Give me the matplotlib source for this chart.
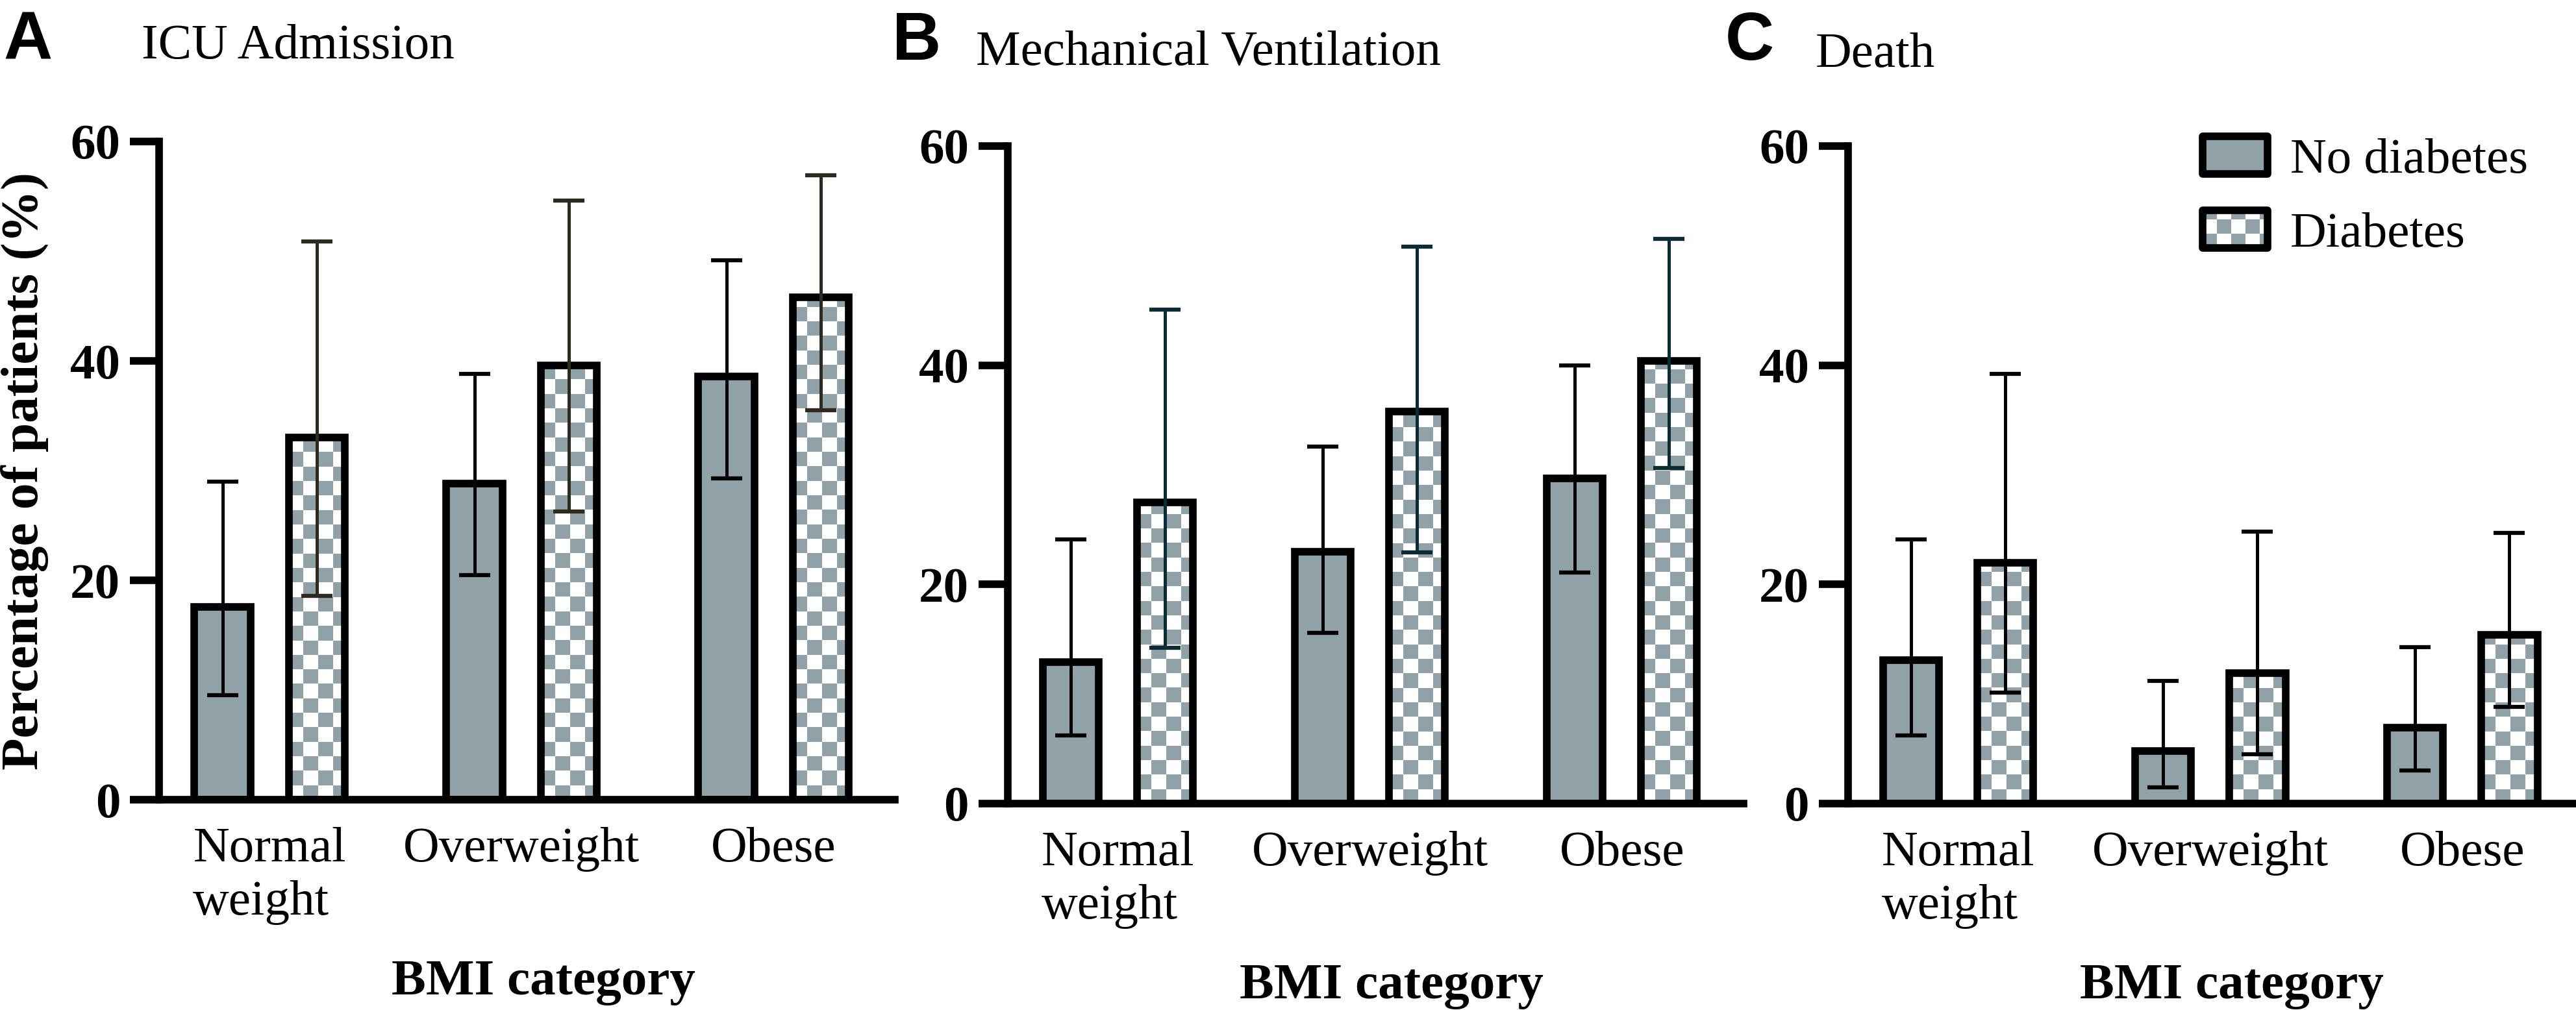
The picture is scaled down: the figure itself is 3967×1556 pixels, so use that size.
import numpy as np
import matplotlib
matplotlib.use("Agg")
import matplotlib.pyplot as plt
from matplotlib.patches import Rectangle, Patch
from matplotlib.colors import ListedColormap
from matplotlib.legend_handler import HandlerBase

plt.rcParams['font.family'] = ['Liberation Serif', 'DejaVu Serif']

# ---------------------------------------------
# Data (percent of patients, with 95% CI)
# ---------------------------------------------
categories = ["Normal\nweight", "Overweight", "Obese"]
panel_letters = ["A", "B", "C"]
panel_titles = ["ICU Admission", "Mechanical Ventilation", "Death"]

icu_no = [17.6, 28.8, 38.6]
icu_no_lo = [9.5, 20.5, 29.3]
icu_no_hi = [29.0, 38.8, 49.2]
icu_dm = [33.0, 39.6, 45.8]
icu_dm_lo = [18.6, 26.3, 35.5]
icu_dm_hi = [50.9, 54.6, 56.9]

mv_no = [12.9, 23.0, 29.7]
mv_no_lo = [6.2, 15.6, 21.1]
mv_no_hi = [24.1, 32.6, 40.0]
mv_dm = [27.5, 35.8, 40.4]
mv_dm_lo = [14.2, 22.9, 30.6]
mv_dm_hi = [45.1, 50.8, 51.5]

death_no = [13.1, 4.8, 6.9]
death_no_lo = [6.2, 1.5, 3.0]
death_no_hi = [24.1, 11.2, 14.3]
death_dm = [22.0, 11.9, 15.4]
death_dm_lo = [10.1, 4.5, 8.8]
death_dm_hi = [39.2, 24.8, 24.7]

GREY = '#90a1a8'
DM_ERR_COLORS = ['#2e2a20', '#0b2b35', 'black']

panels = [
    (icu_no, icu_no_lo, icu_no_hi, icu_dm, icu_dm_lo, icu_dm_hi),
    (mv_no, mv_no_lo, mv_no_hi, mv_dm, mv_dm_lo, mv_dm_hi),
    (death_no, death_no_lo, death_no_hi, death_dm, death_dm_lo, death_dm_hi),
]

W = 0.222      # bar width
OFF = 0.187    # offset from group centre
SQ_X = 0.0575  # checker square, data units
SQ_Y = 1.32
EDGE_LW = 2.8


def checker_bar(ax, x, h):
    """Bar with a grey/white checkerboard fill."""
    x0 = x - W / 2
    face = ax.bar(x, h, W, color='white', edgecolor='none', zorder=1)[0]
    nx = int(np.ceil(W / SQ_X))
    ny = max(int(np.ceil(h / SQ_Y)), 1)
    board = np.indices((ny, nx)).sum(axis=0) % 2
    im = ax.imshow(board, cmap=ListedColormap(['white', GREY]), origin='lower',
                   extent=(x0, x0 + nx * SQ_X, 0, ny * SQ_Y),
                   interpolation='nearest', aspect='auto', zorder=1.5)
    im.set_clip_path(face)
    ax.bar(x, h, W, color='none', edgecolor='black', linewidth=EDGE_LW, zorder=2)


class BoxHandler(HandlerBase):
    def __init__(self, checker):
        super().__init__()
        self.checker = checker

    def create_artists(self, legend, orig_handle, xdescent, ydescent,
                       width, height, fontsize, trans):
        x0, y0 = -xdescent, -ydescent
        arts = []
        if self.checker:
            arts.append(Rectangle((x0, y0), width, height, fc='white', ec='none', transform=trans))
            s = 5.3
            nx = int(np.ceil(width / s))
            ny = int(np.ceil(height / s))
            for i in range(nx):
                for j in range(ny):
                    if (i + j) % 2 == 0:
                        w = min(s, width - i * s)
                        hh = min(s, height - j * s)
                        arts.append(Rectangle((x0 + i * s, y0 + j * s), w, hh,
                                              fc=GREY, ec='none', transform=trans))
            fc = 'none'
        else:
            fc = GREY
        arts.append(Rectangle((x0, y0), width, height, fc=fc, ec='black',
                              lw=EDGE_LW, joinstyle='round', transform=trans))
        return arts


fig = plt.figure(figsize=(3967 / 300, 1556 / 300), dpi=300)

lefts = [0.0618, 0.3912, 0.7174]
bottoms = [0.2082, 0.2044, 0.2044]
heights = [0.6517, 0.651, 0.651]
letter_pos = [(0.0013, 0.942), (0.3464, 0.941), (0.6698, 0.941)]
title_pos = [(0.055, 0.942), (0.3789, 0.936), (0.7048, 0.934)]

xs = np.arange(len(categories))
for k, (no, no_lo, no_hi, dm, dm_lo, dm_hi) in enumerate(panels):
    ax = fig.add_axes([lefts[k], bottoms[k], 0.2856, heights[k]])
    no = np.array(no)
    dm = np.array(dm)

    ax.bar(xs - OFF, no, W, color=GREY, edgecolor='black', linewidth=EDGE_LW, zorder=2)
    for x, h in zip(xs + OFF, dm):
        checker_bar(ax, x, h)

    ax.errorbar(xs - OFF, no, yerr=[no - np.array(no_lo), np.array(no_hi) - no],
                fmt='none', ecolor='black', elinewidth=1.2, capsize=5.8, capthick=1.5, zorder=3)
    ax.errorbar(xs + OFF, dm, yerr=[dm - np.array(dm_lo), np.array(dm_hi) - dm],
                fmt='none', ecolor=DM_ERR_COLORS[k], elinewidth=1.2, capsize=5.8, capthick=1.5, zorder=3)

    ax.set_xlim(-0.438, 2.482)
    ax.set_ylim(0, 60)
    ax.set_yticks([0, 20, 40, 60])
    ax.set_xticks(xs)
    ax.set_xticklabels(categories, fontsize=18.5, linespacing=1.25)
    for lbl in ax.get_xticklabels():
        lbl.set_multialignment('left')
    for lbl in ax.get_yticklabels():
        lbl.set_fontweight('bold')
        lbl.set_fontsize(18.5)

    ax.spines['top'].set_visible(False)
    ax.spines['right'].set_visible(False)
    ax.spines['left'].set_linewidth(EDGE_LW)
    ax.spines['bottom'].set_linewidth(EDGE_LW)
    ax.tick_params(axis='y', length=10.8, width=EDGE_LW, pad=3.6)
    ax.tick_params(axis='x', length=0, pad=10)

    ax.set_xlabel("BMI category", fontsize=19, fontweight='bold')
    ax.xaxis.set_label_coords(0.522, -0.243)
    if k == 0:
        ax.set_ylabel("Percentage of patients (%)", fontsize=19.5, fontweight='bold', labelpad=8)

    fig.text(*letter_pos[k], panel_letters[k], fontsize=25, fontweight='bold',
             family=['Liberation Sans', 'DejaVu Sans'], va='baseline', ha='left')
    fig.text(*title_pos[k], panel_titles[k], fontsize=18.5, va='baseline', ha='left')

    if k == 2:
        h1 = Patch(facecolor=GREY)
        h2 = Patch(facecolor='white')
        ax.legend([h1, h2], ["No diabetes", "Diabetes"],
                  handler_map={h1: BoxHandler(False), h2: BoxHandler(True)},
                  loc='upper left', bbox_to_anchor=(0.855, 0.865),
                  bbox_transform=fig.transFigure, frameon=False, fontsize=18.5,
                  handlelength=1.3, handleheight=0.78, handletextpad=0.45,
                  labelspacing=0.55, borderpad=0, borderaxespad=0)

fig.savefig("out.png", dpi=300)
